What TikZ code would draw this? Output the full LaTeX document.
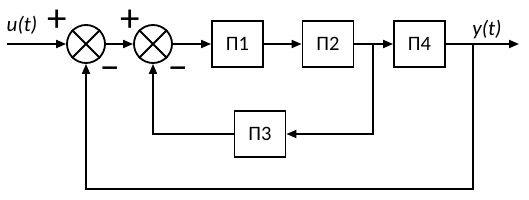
\documentclass[tikz,border=0pt]{standalone}
\usepackage{fontspec}
\setmainfont{Carlito}
\usetikzlibrary{arrows.meta}
\begin{document}
\begin{tikzpicture}[x=1pt,y=-1pt,line width=1.8pt,
  >={Triangle[length=10pt,width=8pt]},
  sumnode/.style={draw,circle,minimum size=38pt,inner sep=0pt},
  blk/.style={draw,minimum width=51pt,minimum height=46pt,inner sep=0pt,font=\fontsize{20.5}{24}\selectfont},
  lbl/.style={font=\fontsize{21}{24}\selectfont\itshape,inner sep=0pt},
  sgn/.style={font=\fontsize{39}{40}\selectfont,inner sep=0pt}]
\useasboundingbox (0,0) rectangle (529,200);
\node[sumnode] (s1) at (86,44) {};
\node[sumnode] (s2) at (153,44) {};
\draw (s1.north west) -- (s1.south east) (s1.north east) -- (s1.south west);
\draw (s2.north west) -- (s2.south east) (s2.north east) -- (s2.south west);
\node[blk] (p1) at (237.5,44) {П1};
\node[blk] (p2) at (328,44) {П2};
\node[blk] (p4) at (419.5,44) {П4};
\node[blk] (p3) at (260,134) {П3};
\node[lbl] (u) at (22,25) {u(t)};
\node[lbl] (y) at (487,30) {y(t)};
\node[sgn] (pl1) at (57,21) {+};
\node[sgn] (pl2) at (130,21) {+};
\node[sgn] (mi1) at (110,74) {−};
\node[sgn] (mi2) at (178,74) {−};
\coordinate (in) at (7,44);
\coordinate (b1) at (373,44);
\coordinate (b2) at (473,44);
\coordinate (out) at (519,44);
\coordinate (bot) at (473,189);
\draw[->] (in) -- (s1);
\draw[->] (s1) -- (s2);
\draw[->] (s2) -- (p1);
\draw[->] (p1) -- (p2);
\draw (p2) -- (b1);
\draw[->] (b1) -- (p4);
\draw (p4) -- (b2);
\draw[->] (b2) -- (out);
\draw[->] (b1) |- (p3.east);
\draw[->] (p3.west) -| (s2.south);
\draw[->] (b2) -- (bot) -| (s1.south);
\end{tikzpicture}
\end{document}
